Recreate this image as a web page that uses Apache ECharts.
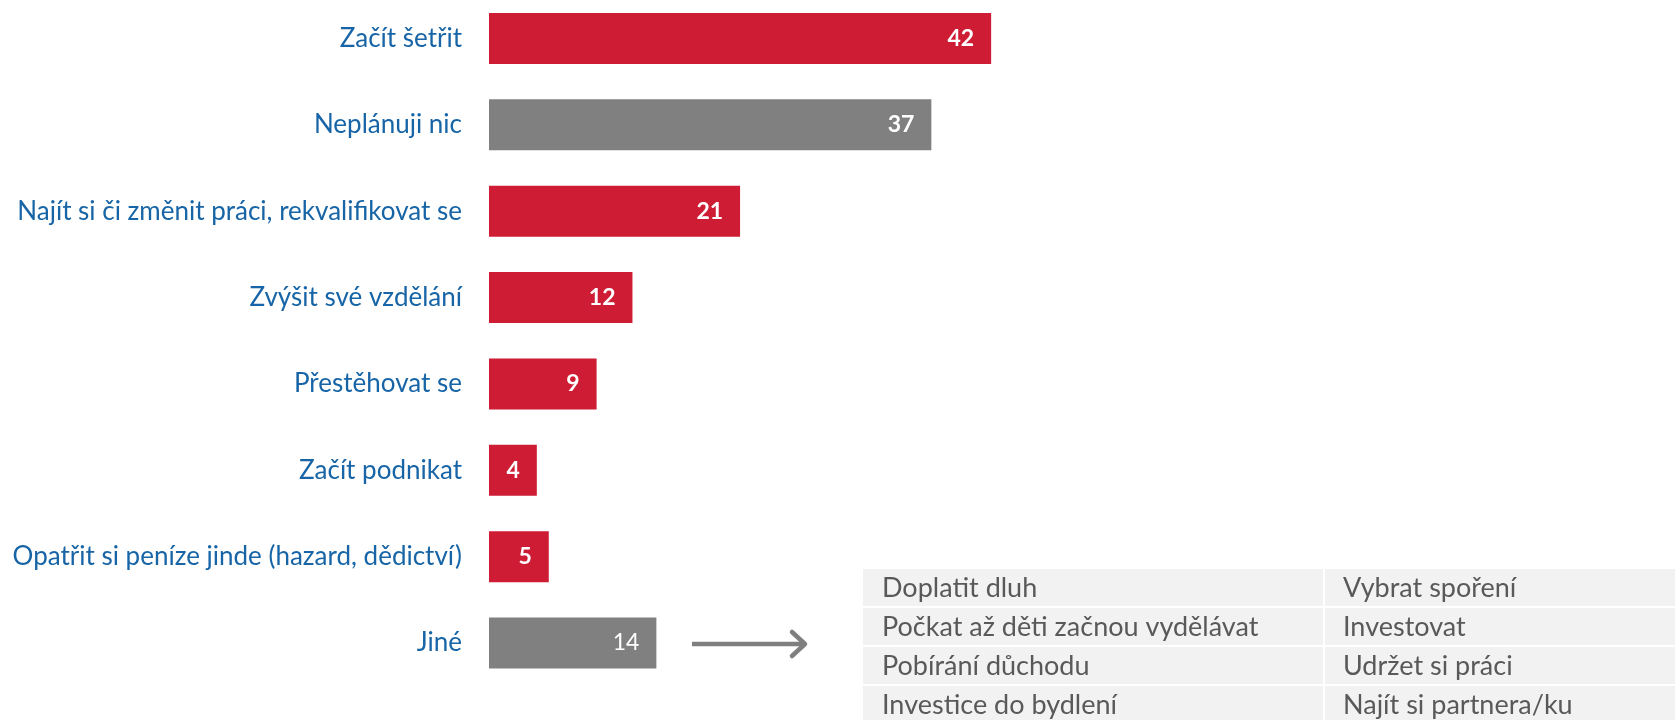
<!DOCTYPE html>
<html>
<head>
<meta charset="utf-8">
<script src="https://cdn.jsdelivr.net/npm/echarts@6/dist/echarts.min.js"></script>
<style>
  html, body { margin: 0; padding: 0; background: #fff; }
  #chart { width: 1675px; height: 720px; }
</style>
</head>
<body>
<div id="chart"></div>
<script>
// data
const categories = [
  'Začít šetřit',
  'Neplánuji nic',
  'Najít si či změnit práci, rekvalifikovat se',
  'Zvýšit své vzdělání',
  'Přestěhovat se',
  'Začít podnikat',
  'Opatřit si peníze jinde (hazard, dědictví)',
  'Jiné'
];
const values = [42, 37, 21, 12, 9, 4, 5, 14];
const isGray = [false, true, false, false, false, false, false, true];

const otherLeft = ['Doplatit dluh', 'Počkat až děti začnou vydělávat', 'Pobírání důchodu', 'Investice do bydlení'];
const otherRight = ['Vybrat spoření', 'Investovat', 'Udržet si práci', 'Najít si partnera/ku'];

const RED = '#CE1C34';
const GRAY = '#808080';
const FONT = 'Lato, "Open Sans", sans-serif';

const chart = echarts.init(document.getElementById('chart'));

// table of "other" answers, drawn as graphics
const tbl = { x: 863, y: 569, colX: 1325, rowH: 39, right: 1680 };
const tableGraphics = [];
otherLeft.forEach((txt, i) => {
  const y = tbl.y + i * tbl.rowH;
  tableGraphics.push({
    type: 'rect',
    shape: { x: tbl.x, y: y, width: tbl.colX - tbl.x - 2, height: tbl.rowH - 2 },
    style: { fill: '#F2F2F2' }
  });
  tableGraphics.push({
    type: 'rect',
    shape: { x: tbl.colX, y: y, width: tbl.right - tbl.colX, height: tbl.rowH - 2 },
    style: { fill: '#F2F2F2' }
  });
  tableGraphics.push({
    type: 'text',
    x: tbl.x + 19, y: y + tbl.rowH / 2,
    style: { text: txt, fill: '#595959', font: '27px ' + FONT, verticalAlign: 'middle' }
  });
  tableGraphics.push({
    type: 'text',
    x: tbl.colX + 18, y: y + tbl.rowH / 2,
    style: { text: otherRight[i], fill: '#595959', font: '27px ' + FONT, verticalAlign: 'middle' }
  });
});

const option = {
  animation: false,
  grid: { left: 489, right: 110, top: 38.5, height: 604.5 },
  xAxis: {
    type: 'value',
    min: 0,
    max: 90,
    show: false
  },
  yAxis: {
    type: 'category',
    data: categories,
    inverse: true,
    boundaryGap: false,
    axisLine: { show: false },
    axisTick: { show: false },
    axisLabel: {
      color: '#1765A6',
      fontSize: 26,
      fontFamily: FONT,
      margin: 27
    }
  },
  series: [
    {
      type: 'bar',
      barWidth: 51,
      data: values.map((v, i) => ({
        value: v,
        itemStyle: { color: isGray[i] ? GRAY : RED },
        label: { fontWeight: i === 7 ? 'normal' : 'bold' }
      })),
      label: {
        show: true,
        position: 'insideRight',
        distance: 17,
        color: '#fff',
        fontSize: 23,
        fontWeight: 'bold',
        fontFamily: FONT
      }
    }
  ],
  graphic: [
    {
      type: 'line',
      shape: { x1: 692, y1: 644, x2: 803, y2: 644 },
      style: { stroke: '#7F7F7F', lineWidth: 4.5 }
    },
    {
      type: 'polyline',
      shape: { points: [[792, 632], [805, 644], [792, 656]] },
      style: { stroke: '#7F7F7F', lineWidth: 4.5, fill: null, lineCap: 'round', lineJoin: 'round' }
    }
  ].concat(tableGraphics)
};

chart.setOption(option);
</script>
</body>
</html>
